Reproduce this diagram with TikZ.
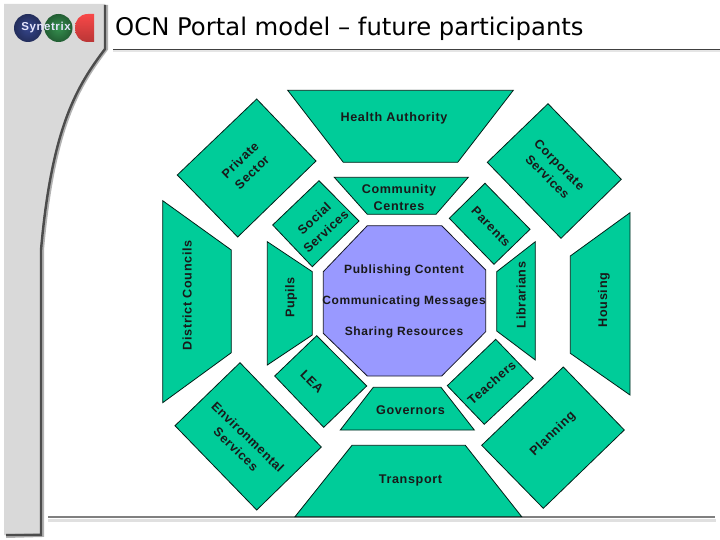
\documentclass[tikz,border=0pt]{standalone}
\usepackage{fontspec}
\setmainfont{Liberation Sans}
\newfontfamily\titlefont{DejaVu Sans}
\newfontfamily\lblfont[LetterSpace=5]{Liberation Sans}
\usetikzlibrary{positioning}
\definecolor{segteal}{HTML}{00CC99}
\definecolor{hubviolet}{HTML}{9999FF}
\definecolor{stripgrey}{HTML}{D9D9D9}
\definecolor{logoblue}{HTML}{36468C}
\definecolor{logogreen}{HTML}{35904F}
\definecolor{logored}{HTML}{F84848}
\tikzset{
  seg/.style={draw=black!85!segteal, line width=0.8pt, fill=segteal, line join=miter},
  hub/.style={draw=black!85!hubviolet, line width=0.8pt, fill=hubviolet},
  lbl/.style={font=\lblfont\bfseries\fontsize{12.6}{17}\selectfont, align=center, inner sep=0pt, text=black!90},
  hublbl/.style={font=\lblfont\bfseries\fontsize{12}{17}\selectfont, align=center, inner sep=0pt, text=black!90},
  logotxt/.style={font=\lblfont\bfseries\fontsize{11.5}{12}\selectfont, text=black!10!blue!10!white, inner sep=0pt}
}
\begin{document}
\begin{tikzpicture}[x=1pt,y=-1pt]
  \useasboundingbox (0,0) rectangle (720,540);
  \fill[white] (0,0) rectangle (720,540);

  % side strip
  \fill[stripgrey] (4,4) -- (105,4) -- (105,49) .. controls (78,85) and (52,125) .. (41,250) -- (41,535) -- (4,535) -- cycle;
  \draw[black!30, line width=4pt] (106,5) -- (106,49) .. controls (79,85) and (53,125) .. (42,250) -- (42,535) -- (6,536);
  \draw[black!70, line width=2.4pt] (105,5) -- (105,49) .. controls (78,85) and (52,125) .. (41,250) -- (41,535) -- (6,535);

  % logo
  \shade[inner color=logoblue, outer color=logoblue!65!black] (28,28) circle (14);
  \shade[inner color=logogreen, outer color=logogreen!65!black] (58.5,28) circle (14);
  \shade[top color=logored, bottom color=logored!75!black] (94,14) -- (94,42) -- (88,42) .. controls (79,42) and (75,35) .. (75,28) .. controls (75,21) and (79,14) .. (88,14) -- cycle;
  \node[logotxt] (logo) at (46,28) {Synetrix};

  % title
  \node[anchor=base west, inner sep=0pt, font=\titlefont\fontsize{24.3}{27}\selectfont] (title) at (115,35.5) {OCN Portal model – future participants};
  \draw[black!10, line width=2pt] (113,51.5) -- (720,51.5);
  \draw[black!75, line width=1pt] (113,49.5) -- (720,49.5);

  % bottom rule
  \draw[black!12, line width=3pt] (48,520) -- (716,520);
  \draw[black!50, line width=1.2pt] (48,517) -- (715,517);

  % outer ring
  \draw[seg] (287.7,90.3) -- (513.3,90.3) -- (457.7,162.3) -- (343.3,162.3) -- cycle;
  \draw[seg] (548,103.7) -- (621.3,179.3) -- (561,238.3) -- (487.3,162.3) -- cycle;
  \draw[seg] (630,212.7) -- (630,395) -- (570.3,353.3) -- (570.3,256) -- cycle;
  \draw[seg] (563.3,367) -- (624.3,430) -- (543.3,508.3) -- (481.7,445.3) -- cycle;
  \draw[seg] (352,445.3) -- (465.3,445.3) -- (521.7,516.7) -- (295,516.7) -- cycle;
  \draw[seg] (240,362.7) -- (321.3,447) -- (256.7,510) -- (175,425.7) -- cycle;
  \draw[seg] (162.7,200.7) -- (231.3,250) -- (231.3,352.7) -- (162.7,402.7) -- cycle;
  \draw[seg] (256.7,99) -- (316,161) -- (237.7,237) -- (177.3,175) -- cycle;

  % inner ring
  \draw[seg] (334.3,177.3) -- (468.3,177.3) -- (436,214.3) -- (367.3,214.3) -- cycle;
  \draw[seg] (485,183.3) -- (530,229.3) -- (494,264.3) -- (449.3,218.3) -- cycle;
  \draw[seg] (535.3,241.7) -- (535.3,360) -- (496.7,331) -- (496.7,271.7) -- cycle;
  \draw[seg] (495.7,339.3) -- (533.3,378.3) -- (484.3,424.3) -- (447.3,385.7) -- cycle;
  \draw[seg] (373.3,387.3) -- (441,387.3) -- (474.3,430) -- (340.3,430) -- cycle;
  \draw[seg] (316.7,335.7) -- (366.7,386) -- (323.7,427.3) -- (274.7,376) -- cycle;
  \draw[seg] (267.3,241.7) -- (312.3,271.7) -- (312.3,335) -- (267.3,365) -- cycle;
  \draw[seg] (319,180.7) -- (359,221) -- (312.3,266.7) -- (272.7,225) -- cycle;

  % centre
  \draw[hub] (367.3,225.7) -- (441.7,225.7) -- (485.7,270) -- (485.7,331.7) -- (441.7,376) -- (367.3,376) -- (323.3,333.3) -- (323.3,271.7) -- cycle;

  % labels
  \node[lbl] (health) at (394,118.5) {Health Authority};
  \node[lbl, rotate=-45] (corporate) at (553.5,171) {Corporate\\Services};
  \node[lbl, rotate=90] (housing) at (604,300) {Housing};
  \node[lbl, rotate=44] (planning) at (553,434) {Planning};
  \node[lbl] (transport) at (410.5,480.5) {Transport};
  \node[lbl, rotate=-44] (environ) at (242,443) {Environmental\\Services};
  \node[lbl, rotate=90] (district) at (187,295.5) {District Councils};
  \node[lbl, rotate=44] (private) at (246,166) {Private\\Sector};

  \node[lbl] (community) at (399,197.5) {Community\\Centres};
  \node[lbl, rotate=-46] (parents) at (491,226.7) {Parents};
  \node[lbl, rotate=90] (librarians) at (521,295) {Librarians};
  \node[lbl, rotate=41] (teachers) at (491.7,382.5) {Teachers};
  \node[lbl] (governors) at (410.5,410) {Governors};
  \node[lbl, rotate=-45] (lea) at (312,381.5) {LEA};
  \node[lbl, rotate=90] (pupils) at (291,297.5) {Pupils};
  \node[lbl, rotate=43] (social) at (320,225) {Social\\Services};

  \node[hublbl] (publishing) at (404,270.5) {Publishing Content};
  \node[hublbl] (communicating) at (404,301.5) {Communicating Messages};
  \node[hublbl] (sharing) at (404,332.5) {Sharing Resources};
\end{tikzpicture}
\end{document}
